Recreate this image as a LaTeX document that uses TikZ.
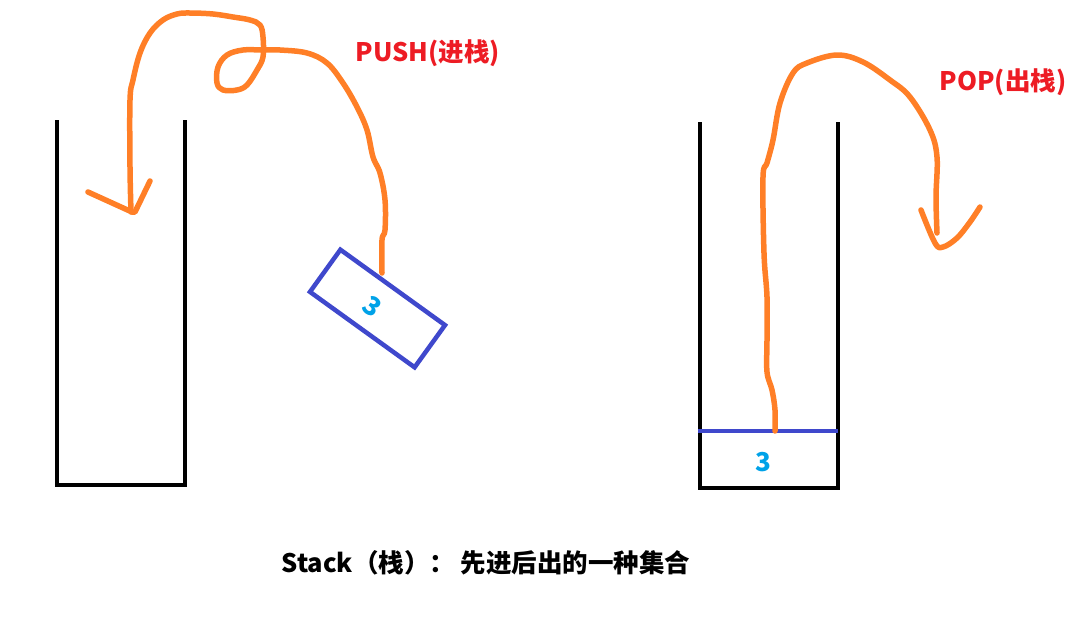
\documentclass[tikz,border=0pt]{standalone}
\usepackage{fontspec}
\newfontfamily\cjk{Noto Sans CJK SC}
\definecolor{penorange}{HTML}{FF7F27}
\definecolor{penblue}{HTML}{3F48CC}
\definecolor{pencyan}{HTML}{00A2E8}
\definecolor{penred}{HTML}{ED1C24}
\tikzset{
  wall/.style={line width=4.5pt, black},
  stroke/.style={line width=5.5pt, penorange, line cap=round, line join=round},
  label/.style={font=\cjk\bfseries\fontsize{25.5}{28}\selectfont, text=penred, inner sep=0pt},
  digit/.style={font=\cjk\bfseries\fontsize{26}{28}\selectfont, text=pencyan, inner sep=0pt},
}
\begin{document}
\begin{tikzpicture}[x=1pt,y=-1pt]
\useasboundingbox (0,0) rectangle (1071,640);
% left stack
\draw[wall] (57,120) -- (57,485) -- (185,485) -- (185,120);
% right stack
\draw[wall] (700,122) -- (700,488) -- (838,488) -- (838,122);
\draw[line width=4.5pt, penblue] (698,431) -- (838,431);
\node[digit] (n3b) at (763,462) {3};
% rotated box
\node[draw=penblue, line width=4.5pt, rotate=-35.8, minimum width=129pt, minimum height=52pt, inner sep=0pt] (box) at (377.5,308.5) {};
\node[digit, rotate=-35.8] (n3a) at (372,306) {3};
\coordinate (pushstart) at (382,273);
\coordinate (popstart) at (775,431);
% push curve
\draw[stroke] plot[smooth, tension=0.6] coordinates {
 (pushstart) (382,240) (385,230) (385,200) (380,173) (373,157) (367,130) (357,107) (343,83) (327,63) (307,53) (280,50) (262,50)
 (243,50) (227,55) (218,67) (217,83) (223,90) (237,90) (247,85) (257,70) (263,57) (263,37) (260,25) (250,20) (233,17) (213,14) (190,13) (177,14) (163,20) (150,33) (140,53) (133,80) (130,100) (130,167) (131,212)};
\draw[stroke] (88,192) -- (132,212) -- (135,212) -- (150,181);
% pop curve
\draw[stroke] plot[smooth, tension=0.6] coordinates {
 (popstart) (775,410) (772,390) (767,372) (767,340) (767,297) (764,253) (763,177) (767,163) (773,140) (780,103) (793,73) (807,63) (837,55) (863,62) (890,80) (910,97) (930,130) (937,157) (936,197) (937,233)};
\draw[stroke] plot[smooth, tension=0.6] coordinates {(921,210) (935,243) (943,247) (957,238) (970,222) (980,207)};
% labels
\node[label] (push) at (428,53) {PUSH(进栈)};
\node[label] (pop) at (1003,82) {POP(出栈)};
\node[font=\cjk\bfseries\fontsize{25.5}{28}\selectfont, inner sep=0pt] (title) at (486,563) {Stack（栈）： 先进后出的一种集合};
\end{tikzpicture}
\end{document}
